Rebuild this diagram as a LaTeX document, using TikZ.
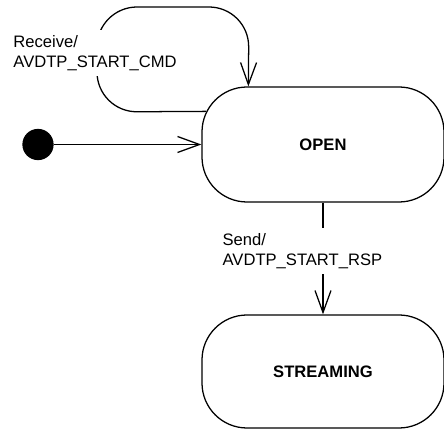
\documentclass[tikz,border=0pt]{standalone}
\usepackage{fontspec}
\setmainfont{Liberation Sans}
\usetikzlibrary{arrows.meta,calc}

\begin{document}
\begin{tikzpicture}[
  >={Straight Barb[length=5.5mm,width=4mm]},
  line width=0.9pt,
  every node/.style={font=\fontsize{11.8}{14.2}\selectfont},
  statebox/.style={draw,rounded corners=11.25mm,minimum width=60.5mm,
    minimum height=28.75mm,font=\fontsize{11.8}{14.2}\selectfont\bfseries},
  startdot/.style={circle,draw,fill=black,minimum size=7.5mm,inner sep=0pt},
  translabel/.style={align=left,fill=white,inner sep=4pt,anchor=west}
]
  \useasboundingbox (0,0) rectangle (11.1,-10.75);

  \node[statebox] (open) at (8.075,-3.6125) {OPEN};
  \node[statebox,minimum height=28.25mm] (streaming) at (8.075,-9.2875) {STREAMING};
  \node[startdot] (init) at (0.95,-3.6125) {};

  % initial transition
  \draw[->] (init.east) -- (open.west);

  % self loop on OPEN
  \coordinate (loopout) at ($(open.north west)+(0.117,-0.625)$);
  \coordinate (loopin) at ($(open.north west)+(1.175,0)$);
  \draw[->,rounded corners=10mm]
    (loopout) -- (2.425,-2.8) -- (2.425,-0.175) -- (6.225,-0.175) -- (loopin);
  \node[translabel] (recv) at (0.18,-1.325) {Receive/\\AVDTP\_START\_CMD};

  % OPEN -> STREAMING
  \draw[->] (open.south) -- (streaming.north);
  \node[translabel] (send) at (5.41,-6.28) {Send/\\AVDTP\_START\_RSP};
\end{tikzpicture}
\end{document}
